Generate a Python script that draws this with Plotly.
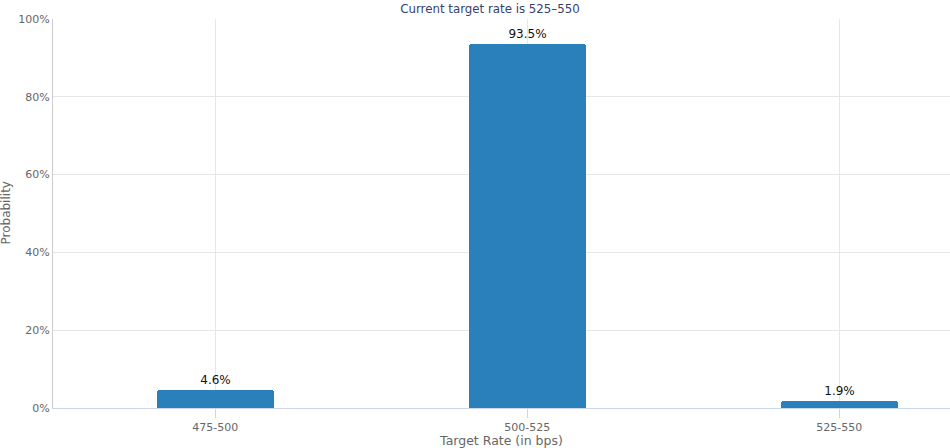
import plotly.graph_objects as go

categories = ["475-500", "500-525", "525-550"]
probabilities = [4.6, 93.5, 1.9]
bar_labels = ["4.6%", "93.5%", "1.9%"]
y_ticks = [0, 20, 40, 60, 80, 100]
y_tick_labels = ["0%", "20%", "40%", "60%", "80%", "100%"]

W, H = 950, 448
ml, mr, mt, mb = 53, 0, 19, 40
pw = W - ml - mr

fig = go.Figure()
fig.add_trace(go.Bar(
    x=categories, y=probabilities,
    marker=dict(color="#2980ba", line=dict(width=0)),
    marker_cornerradius=3,
    width=0.375,
    text=bar_labels, textposition="outside", cliponaxis=False,
    textfont=dict(family="DejaVu Sans", size=12, color="#111111"),
    hoverinfo="skip",
))

fig.update_layout(
    width=W, height=H,
    margin=dict(l=ml, r=mr, t=mt, b=mb, pad=0),
    paper_bgcolor="white", plot_bgcolor="white",
    font=dict(family="DejaVu Sans", size=11, color="#666666"),
    showlegend=False,
    bargap=0,
    title=dict(text="Current target rate is 525\u2013550", x=(490 - ml) / pw, xref="paper",
               xanchor="center", y=1 - 9 / H, yanchor="middle",
               font=dict(family="DejaVu Sans", size=11.8, color="#35436b")),
    xaxis=dict(
        type="category", range=[-0.52, 2.355],
        showgrid=True, gridcolor="#e6e6e6", gridwidth=1,
        showline=True, linecolor="#ccd6eb", linewidth=1,
        ticks="outside", ticklen=9, tickcolor="#ccd6eb",
        tickfont=dict(size=11, color="#666666"),
        title=dict(text="Target Rate (in bps)", font=dict(size=12.5, color="#666666"), standoff=4),
        zeroline=False,
    ),
    yaxis=dict(
        range=[0, 100], tickvals=y_ticks, ticktext=y_tick_labels,
        showgrid=True, gridcolor="#e6e6e6", gridwidth=1,
        showline=True, linecolor="#cccccc", linewidth=1,
        ticks="", ticklen=0,
        tickfont=dict(size=11, color="#666666"),
        zeroline=False,
    ),
    annotations=[dict(
        text="Probability", textangle=-90, xref="paper", yref="paper",
        x=(5 - ml) / pw, y=0.5, xanchor="center", yanchor="middle", showarrow=False,
        font=dict(size=12, color="#666666"),
    )],
)

fig.write_html("out.html")
